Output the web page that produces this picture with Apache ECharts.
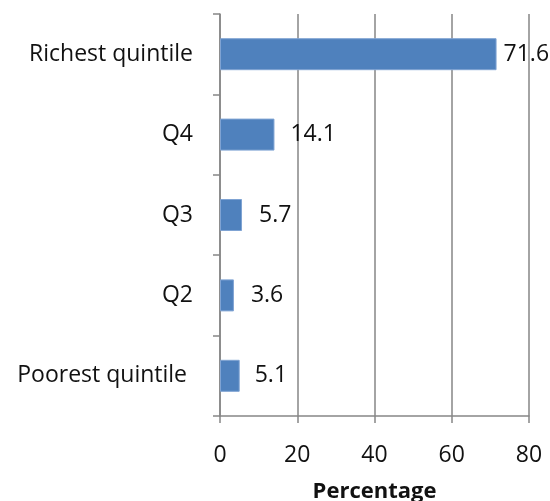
<!DOCTYPE html>
<html>
<head>
<meta charset="utf-8">
<script src="https://cdn.jsdelivr.net/npm/echarts@6/dist/echarts.min.js"></script>
<style>html,body{margin:0;padding:0;background:#fff;}#c{width:550px;height:501px;}</style>
</head>
<body>
<div id="c"></div>
<script>
var categories = ["Poorest quintile ", "Q2", "Q3", "Q4", "Richest quintile"];
var values = [5.1, 3.6, 5.7, 14.1, 71.6];
var labelGaps = [15, 17, 17, 16, 7];
var xTicks = [0, 20, 40, 60, 80];
var axisTitle = "Percentage";

var FONT = "Open Sans";
var chart = echarts.init(document.getElementById('c'), null, {renderer: 'canvas'});
var data = values.map(function (v, i) {
  return {value: v, label: {distance: labelGaps[i]}};
});
chart.setOption({
  animation: false,
  grid: {left: 220, right: 21, top: 14, bottom: 85, containLabel: false, outerBoundsMode: 'none'},
  xAxis: {
    type: 'value', min: xTicks[0], max: xTicks[xTicks.length - 1], interval: 20,
    name: axisTitle, nameLocation: 'middle', nameGap: 65,
    nameTextStyle: {fontFamily: FONT, fontSize: 22, fontWeight: 'bold', color: '#111'},
    axisLine: {show: true, lineStyle: {color: '#868686', width: 1.5}},
    axisTick: {show: true, length: 7, lineStyle: {color: '#868686', width: 1.5}},
    axisLabel: {fontFamily: FONT, fontSize: 23, color: '#111', margin: 28},
    splitLine: {show: true, lineStyle: {color: '#868686', width: 1.5}}
  },
  yAxis: {
    type: 'category', data: categories,
    axisLine: {show: true, lineStyle: {color: '#868686', width: 1.5}},
    axisTick: {show: true, length: 7, alignWithLabel: false, lineStyle: {color: '#868686', width: 1.5}},
    axisLabel: {fontFamily: FONT, fontSize: 23, color: '#111', margin: 27},
    splitLine: {show: false}
  },
  series: [{
    type: 'bar', data: data, barWidth: 32,
    itemStyle: {color: '#4F81BD', borderColor: '#7FA3D3', borderWidth: 1},
    label: {show: true, position: 'right', fontFamily: FONT, fontSize: 23, color: '#111',
      formatter: function (p) { return p.value.toFixed(1); }}
  }]
});
</script>
</body>
</html>
